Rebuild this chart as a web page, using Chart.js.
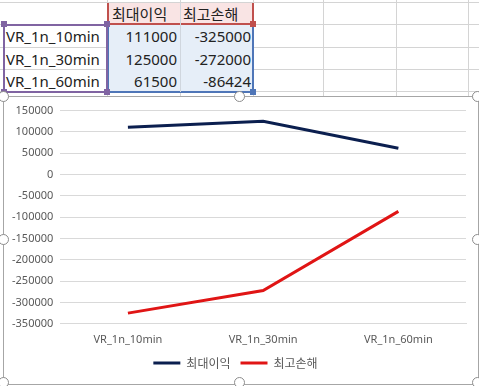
<!DOCTYPE html>
<html lang="ko">
<head>
    <meta charset="UTF-8">
    <title>최대이익 / 최고손해</title>
    <script src="https://cdn.jsdelivr.net/npm/chart.js"></script>
    <style>
        body {
            margin: 0;
            width: 479px;
            height: 386px;
            overflow: hidden;
            background: #fff;
            font-family: "Noto Sans", "Noto Sans CJK KR", sans-serif;
            position: relative;
        }
        .vline, .hline {
            position: absolute;
            background: #d4d4d4;
        }
        .vline { width: 1px; top: 0; height: 96px; }
        .hline { height: 1px; left: 0; width: 479px; }
        .cell {
            position: absolute;
            height: 22px;
            line-height: 22px;
            font-size: 15px;
            color: #222;
            white-space: nowrap;
        }
        .num { text-align: right; }
        .hdr { font-family: "Noto Sans CJK KR", sans-serif; }
        .box { position: absolute; box-sizing: border-box; }
        .sq {
            position: absolute;
            width: 6px;
            height: 6px;
        }
        .chart-box {
            position: absolute;
            left: 3px;
            top: 96px;
            width: 474px;
            height: 287px;
            border: 1px solid #a6a6a6;
            background: #fff;
        }
        .handle {
            position: absolute;
            width: 9px;
            height: 9px;
            border: 1.5px solid #8c8c8c;
            border-radius: 50%;
            background: #fff;
        }
    </style>
</head>
<body>
    <!-- 시트 격자 -->
    <div class="hline" style="top:2px"></div>
    <div class="hline" style="top:24px"></div>
    <div class="hline" style="top:47px"></div>
    <div class="hline" style="top:69px"></div>
    <div class="hline" style="top:91px"></div>
    <div class="vline" style="left:107px"></div>
    <div class="vline" style="left:180px"></div>
    <div class="vline" style="left:253px"></div>
    <div class="vline" style="left:323px"></div>
    <div class="vline" style="left:396px"></div>
    <div class="vline" style="left:468px"></div>

    <!-- 참조 범위 강조 -->
    <div class="box" style="left:107px; top:3px; width:147px; height:22px; background:#f9e4e4; border:2px solid #c0504d; border-top:none;"></div>
    <div class="box" style="left:107px; top:25px; width:147px; height:68px; background:#e6eef8; border:2px solid #4f76b8; border-top:none;"></div>
    <div class="box" style="left:3px; top:24px; width:105px; height:69px; border:2px solid #8064a2;"></div>
    <div class="vline" style="left:180px; top:3px; height:89px; background:#d0d6de"></div>
    <div class="sq" style="left:1px; top:21px; background:#8064a2"></div>
    <div class="sq" style="left:104px; top:21px; background:#8064a2"></div>
    <div class="sq" style="left:1px; top:89px; background:#8064a2"></div>
    <div class="sq" style="left:104px; top:89px; background:#8064a2"></div>
    <div class="sq" style="left:250px; top:21px; background:#c0504d"></div>
    <div class="sq" style="left:250px; top:89px; background:#4f76b8"></div>

    <!-- 셀 내용 -->
    <div id="cells"></div>

    <div class="chart-box">
        <canvas id="myChart" width="474" height="287"></canvas>
    </div>
    <div class="handle" style="left:-2px; top:91px"></div>
    <div class="handle" style="left:234px; top:91px"></div>
    <div class="handle" style="left:472px; top:91px"></div>
    <div class="handle" style="left:-2px; top:234px"></div>
    <div class="handle" style="left:472px; top:234px"></div>
    <div class="handle" style="left:-2px; top:377px"></div>
    <div class="handle" style="left:234px; top:377px"></div>
    <div class="handle" style="left:472px; top:377px"></div>

    <script>
        // 데이터
        const categories = ['VR_1n_10min', 'VR_1n_30min', 'VR_1n_60min'];
        const seriesNames = ['최대이익', '최고손해'];
        const maxProfit = [111000, 125000, 61500];
        const maxLoss = [-325000, -272000, -86424];
        const yTicks = [150000, 100000, 50000, 0, -50000, -100000, -150000, -200000, -250000, -300000, -350000];

        // 표 셀
        const cells = document.getElementById('cells');
        function addCell(text, left, top, width, cls) {
            const d = document.createElement('div');
            d.className = 'cell ' + (cls || '');
            d.style.left = left + 'px';
            d.style.top = top + 'px';
            d.style.width = width + 'px';
            d.textContent = text;
            cells.appendChild(d);
        }
        addCell(seriesNames[0], 112, 3, 70, 'hdr');
        addCell(seriesNames[1], 183, 3, 70, 'hdr');
        categories.forEach((c, i) => {
            const top = 25 + i * 22.5;
            addCell(c, 6, top, 100);
            addCell(String(maxProfit[i]), 108, top, 69, 'num');
            addCell(String(maxLoss[i]), 181, top, 70, 'num');
        });

        // 차트
        const ctx = document.getElementById('myChart').getContext('2d');
        const chart = new Chart(ctx, {
            type: 'line',
            data: {
                labels: categories,
                datasets: [{
                    label: seriesNames[0],
                    data: maxProfit,
                    borderColor: '#0b1f4f',
                    backgroundColor: '#0b1f4f',
                    borderWidth: 3,
                    pointRadius: 0,
                    tension: 0
                }, {
                    label: seriesNames[1],
                    data: maxLoss,
                    borderColor: '#e01515',
                    backgroundColor: '#e01515',
                    borderWidth: 3,
                    pointRadius: 0,
                    tension: 0
                }]
            },
            options: {
                responsive: false,
                animation: false,
                layout: {
                    padding: { top: 5, right: 12, left: 1, bottom: 5 }
                },
                plugins: {
                    tooltip: { enabled: false },
                    legend: {
                        position: 'bottom',
                        labels: {
                            boxWidth: 27,
                            boxHeight: 3,
                            padding: 10,
                            color: '#595959',
                            font: { family: '"Noto Sans CJK KR", sans-serif', size: 12 },
                            // 범례 선 샘플에 테두리 두께가 더해지지 않도록
                            generateLabels: (c) => Chart.defaults.plugins.legend.labels.generateLabels(c)
                                .map(l => Object.assign(l, { lineWidth: 0 }))
                        }
                    }
                },
                scales: {
                    x: {
                        offset: true,
                        grid: { display: false },
                        border: { display: true, color: '#d9d9d9' },
                        ticks: {
                            color: '#595959',
                            font: { family: '"Noto Sans", sans-serif', size: 11 },
                            padding: 1,
                            maxRotation: 0
                        }
                    },
                    y: {
                        min: -350000,
                        max: 150000,
                        afterBuildTicks: (axis) => {
                            axis.ticks = yTicks.map(v => ({ value: v }));
                        },
                        grid: { color: '#d9d9d9', drawTicks: false },
                        border: { display: false },
                        ticks: {
                            color: '#595959',
                            font: { family: '"Noto Sans", sans-serif', size: 11 },
                            padding: 7,
                            callback: (v) => String(v)
                        }
                    }
                }
            }
        });
    </script>
</body>
</html>
